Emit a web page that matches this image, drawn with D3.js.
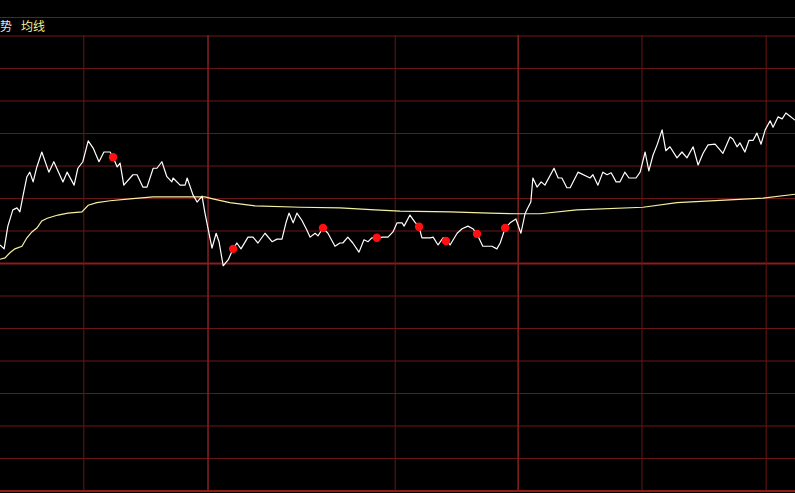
<!DOCTYPE html>
<html>
<head>
<meta charset="utf-8">
<script src="https://cdn.jsdelivr.net/npm/d3@7"></script>
<style>
  html, body { margin: 0; padding: 0; background: #000; }
  svg { display: block; }
</style>
</head>
<body>
<div id="chart"></div>
<script>
// intraday minute chart: time in minutes from the left edge, values in % vs previous close

let priceTime = [0, 1, 1.9, 3.1, 4.1, 4.8, 5.6, 6.5, 7.2, 8, 8.9, 10.1, 11.8, 13, 15.2, 16.2, 17.9, 18.8, 20, 21.3, 22.5, 23.9, 25.1, 26.6, 27.3, 28.3, 29, 29.9, 32.1, 33.1, 34.5, 35.5, 37, 37.9, 39.1, 40.3, 41.5, 41.8, 43.5, 44.7, 45.2, 46.6, 47.6, 48.8, 49.5, 51.2, 52.2, 52.9, 53.9, 55.1, 56.3, 57.2, 58.2, 59.9, 61.1, 62.3, 64, 65.7, 66.9, 68.1, 69.1, 69.8, 70.8, 71.7, 72.9, 74.1, 74.9, 76.1, 76.8, 78, 79.2, 80.9, 82.1, 82.8, 84, 85.2, 86.7, 87.9, 88.9, 89.8, 91, 92.5, 93.7, 94.9, 95.9, 97.1, 97.6, 99, 100.2, 101.2, 101.9, 103.9, 104.6, 105.8, 107, 108, 108.7, 110.4, 111.6, 113, 114.2, 115.2, 116.6, 118.8, 120, 120.8, 122, 123.2, 124.6, 125.8, 126.8, 127.3, 128.2, 128.7, 129.7, 130.7, 131.6, 133.8, 134.8, 135.7, 136.9, 137.7, 139.6, 142.5, 143.2, 144.4, 145.6, 146.6, 147.6, 148.8, 149.7, 150.9, 151.9, 153.6, 154.6, 155.8, 156.7, 157.7, 158.7, 159.9, 160.8, 161.8, 163.5, 164.7, 165.9, 167.4, 168.6, 169.8, 171, 172.7, 174.6, 176.3, 177, 178, 178.7, 179.9, 180.9, 181.9, 182.8, 183.8, 184.8, 186, 186.7, 187.9, 188.9, 189.8, 190.8, 192];

let priceValue = [0.27, 0.21, 0.56, 0.81, 0.84, 0.78, 1.04, 1.32, 1.39, 1.24, 1.47, 1.7, 1.39, 1.55, 1.24, 1.39, 1.19, 1.45, 1.55, 1.87, 1.76, 1.55, 1.7, 1.7, 1.62, 1.47, 1.53, 1.19, 1.35, 1.35, 1.16, 1.16, 1.45, 1.45, 1.55, 1.32, 1.24, 1.3, 1.19, 1.19, 1.3, 1.04, 0.93, 1.02, 0.76, 0.22, 0.45, 0.32, -0.05, 0.04, 0.21, 0.3, 0.21, 0.39, 0.39, 0.3, 0.45, 0.32, 0.36, 0.36, 0.62, 0.76, 0.61, 0.76, 0.65, 0.5, 0.39, 0.45, 0.41, 0.53, 0.45, 0.25, 0.3, 0.3, 0.39, 0.3, 0.16, 0.35, 0.32, 0.38, 0.38, 0.39, 0.39, 0.47, 0.61, 0.61, 0.56, 0.73, 0.62, 0.55, 0.38, 0.38, 0.39, 0.27, 0.38, 0.33, 0.27, 0.45, 0.52, 0.56, 0.52, 0.44, 0.25, 0.25, 0.21, 0.3, 0.53, 0.61, 0.67, 0.45, 0.75, 0.82, 0.93, 1.3, 1.16, 1.24, 1.19, 1.45, 1.3, 1.3, 1.15, 1.15, 1.39, 1.3, 1.35, 1.19, 1.39, 1.35, 1.38, 1.24, 1.24, 1.39, 1.3, 1.3, 1.39, 1.7, 1.41, 1.65, 1.81, 2.04, 1.72, 1.78, 1.61, 1.7, 1.61, 1.78, 1.5, 1.68, 1.81, 1.82, 1.68, 1.93, 1.9, 1.78, 1.84, 1.7, 1.88, 1.88, 1.99, 1.82, 2.04, 2.18, 2.08, 2.24, 2.21, 2.3, 2.25, 2.19];

let avgTime = [0, 1.2, 2.4, 3.6, 5.3, 6.5, 7.7, 8.9, 10.1, 11.4, 14, 16.4, 19.8, 21.3, 23.4, 26.6, 31.4, 37, 46.6, 49.5, 51.4, 55.5, 61.6, 72.5, 82.1, 90.6, 96.6, 108.7, 118.3, 124.9, 130.4, 139.3, 155.3, 163.5, 184.3, 192];

let avgValue = [0.05, 0.07, 0.15, 0.21, 0.25, 0.38, 0.47, 0.53, 0.64, 0.68, 0.73, 0.76, 0.78, 0.88, 0.92, 0.95, 0.98, 1.01, 1.01, 1.01, 0.98, 0.92, 0.87, 0.85, 0.84, 0.81, 0.79, 0.78, 0.76, 0.75, 0.75, 0.81, 0.85, 0.92, 0.99, 1.05];

// red signal dots
let dotTime = [27.3, 56.3, 78, 91, 101.2, 107.7, 115.2, 122];
let dotValue = [1.62, 0.21, 0.53, 0.38, 0.55, 0.33, 0.44, 0.53];

let gridValues = [3.5, 3, 2.5, 2, 1.5, 1, 0.5, 0, -0.5, -1, -1.5, -2, -2.5, -3, -3.5];
let gridTimes = [20, 50, 95.2, 124.9, 154.8, 184.8];
let boldTimes = [50, 124.9];

let legendLabels = ["势", "均线"];

let width = 795;
let height = 493;
let margin = ({ top: 35, bottom: 3 });

let x = d3.scaleLinear().domain([0, 192]).range([0, width]);
let y = d3.scaleLinear().domain([-3.5, 3.5]).range([height - margin.bottom, margin.top]);

const svg = d3.select("#chart").append("svg")
    .attr("width", width)
    .attr("height", height);

svg.append("rect").attr("width", width).attr("height", height).attr("fill", "#000");

// header strip line
svg.append("line")
    .attr("x1", 0).attr("x2", width)
    .attr("y1", 17.5).attr("y2", 17.5)
    .attr("stroke", "#701818");

svg.selectAll("text.legend")
  .data(legendLabels)
  .join("text")
    .attr("class", "legend")
    .attr("x", (d, i) => i == 0 ? 0 : 21)
    .attr("y", 31)
    .attr("fill", (d, i) => i == 0 ? "#e6e6e6" : "#f2f09a")
    .style("font", "12px 'Noto Sans CJK SC', sans-serif")
    .text(d => d);

// horizontal grid
const hGrid = svg.append("g")
    .attr("transform", "translate(0,0.5)")
    .call(d3.axisRight(y).tickValues(gridValues).tickSize(width).tickFormat(""));
hGrid.select(".domain").remove();
hGrid.selectAll(".tick line")
    .attr("stroke", d => (d == 0 || d == -3.5) ? "#8c1c1c" : "#6a1616")
    .attr("stroke-width", d => (d == 0 || d == -3.5) ? 2 : 1);

// vertical grid
const vGrid = svg.append("g")
    .attr("transform", `translate(0.5,${y(-3.5)})`)
    .call(d3.axisBottom(x).tickValues(gridTimes).tickSize(-(y(-3.5) - y(3.5))).tickFormat(""));
vGrid.select(".domain").remove();
vGrid.selectAll(".tick line")
    .attr("stroke", d => boldTimes.includes(d) ? "#862020" : "#6a1616")
    .attr("stroke-width", d => boldTimes.includes(d) ? 1.5 : 1);

let line = d3.line()
    .x(d => x(d[0]))
    .y(d => y(d[1]));

let avgPoints = d3.zip(avgTime, avgValue);
let pricePoints = d3.zip(priceTime, priceValue);

svg.append("path")
    .datum(avgPoints)
    .attr("fill", "none")
    .attr("stroke", "#f4f0a0")
    .attr("stroke-width", 1.2)
    .attr("d", line);

svg.append("path")
    .datum(pricePoints)
    .attr("fill", "none")
    .attr("stroke", "#ffffff")
    .attr("stroke-width", 1.2)
    .attr("stroke-linejoin", "round")
    .attr("d", line);

svg.selectAll("circle.dot")
  .data(d3.zip(dotTime, dotValue))
  .join("circle")
    .attr("class", "dot")
    .attr("cx", d => x(d[0]))
    .attr("cy", d => y(d[1]))
    .attr("r", 4.2)
    .attr("fill", "#ff1010");
</script>
</body>
</html>
